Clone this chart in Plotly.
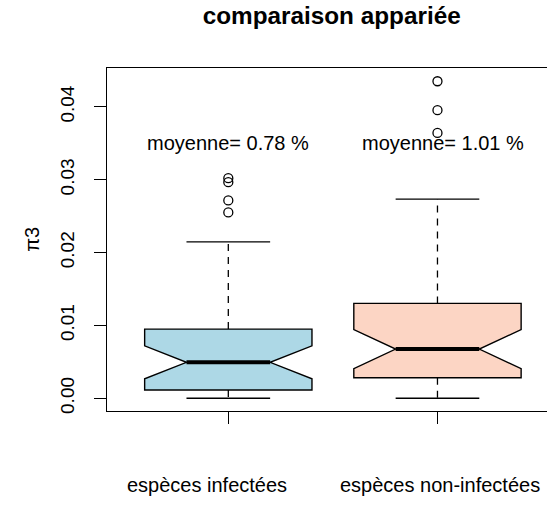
import plotly.graph_objects as go

# Summary statistics of pi3 for each group of species
categories = ["espèces infectées", "espèces non-infectées"]
positions = [1, 2]
q1 = [0.00114, 0.00283]
median = [0.00494, 0.00676]
q3 = [0.0095, 0.01303]
lower_whisker = [0.0, 0.0]
upper_whisker = [0.02148, 0.02734]
notch_span = [0.00226, 0.00268]
outliers = [
    [0.02551, 0.02716, 0.02967, 0.03022],
    [0.03643, 0.03955, 0.04352],
]
mean_pct = [0.78, 1.01]
mean_label_x = [1.0, 2.026]
mean_label_y = 0.035
category_label_x = [0.9, 2.014]
fills = ["#ADD8E6", "#FCD5C4"]
y_ticks = [0.0, 0.01, 0.02, 0.03, 0.04]

FONT = "Liberation Sans, Arial, sans-serif"
BOX_W = 0.8
HALF_STAPLE = BOX_W / 4

fig = go.Figure()

for i, pos in enumerate(positions):
    # notched box (whiskers drawn separately so they can be dashed)
    fig.add_trace(go.Box(
        x=[pos], q1=[q1[i]], median=[median[i]], q3=[q3[i]],
        lowerfence=[q1[i]], upperfence=[q3[i]],
        notchspan=[notch_span[i]], notched=True, notchwidth=0.25,
        width=BOX_W, whiskerwidth=0,
        fillcolor=fills[i], line=dict(color="black", width=1.4),
        boxpoints=False, hoverinfo="skip", showlegend=False,
    ))
    # dashed whiskers
    for a, b in [(q3[i], upper_whisker[i]), (q1[i], lower_whisker[i])]:
        fig.add_trace(go.Scatter(
            x=[pos, pos], y=[a, b], mode="lines",
            line=dict(color="black", width=1.3, dash="7px,6px"),
            hoverinfo="skip", showlegend=False,
        ))
    # staples
    for v in [upper_whisker[i], lower_whisker[i]]:
        fig.add_trace(go.Scatter(
            x=[pos - HALF_STAPLE, pos + HALF_STAPLE], y=[v, v], mode="lines",
            line=dict(color="black", width=1.4),
            hoverinfo="skip", showlegend=False,
        ))
    # thick median
    fig.add_trace(go.Scatter(
        x=[pos - HALF_STAPLE, pos + HALF_STAPLE], y=[median[i], median[i]],
        mode="lines", line=dict(color="black", width=4),
        hoverinfo="skip", showlegend=False,
    ))
    # outliers
    fig.add_trace(go.Scatter(
        x=[pos] * len(outliers[i]), y=outliers[i], mode="markers",
        marker=dict(symbol="circle-open", size=9, color="black",
                    line=dict(width=1.3, color="black")),
        hoverinfo="skip", showlegend=False,
    ))

annotations = []
for i in range(len(positions)):
    annotations.append(dict(
        x=mean_label_x[i], y=mean_label_y, xref="x", yref="y",
        text=f"moyenne= {mean_pct[i]:.2f} %", showarrow=False,
        font=dict(family=FONT, size=20, color="black"),
        xanchor="center", yanchor="middle",
    ))
    annotations.append(dict(
        x=category_label_x[i], y=-0.216, xref="x", yref="paper",
        text=categories[i], showarrow=False,
        font=dict(family=FONT, size=20, color="black"),
        xanchor="center", yanchor="middle",
    ))
annotations.append(dict(
    x=-0.172, y=0.5, xref="paper", yref="paper", text="π3",
    textangle=-90, showarrow=False,
    font=dict(family=FONT, size=20, color="black"),
    xanchor="center", yanchor="middle",
))

fig.update_layout(
    width=547, height=508,
    margin=dict(l=107, r=0, t=68, b=97),
    paper_bgcolor="white", plot_bgcolor="white",
    boxmode="overlay",
    title=dict(text="<b>comparaison appariée</b>", x=331.7 / 547, xref="container",
               xanchor="center", y=1 - 15.6 / 508, yref="container",
               yanchor="middle", font=dict(family=FONT, size=24.3, color="black")),
    annotations=annotations,
    xaxis=dict(range=[0.42, 0.42 + 440.3 / 209.3], tickvals=positions,
               showticklabels=False, ticks="outside", ticklen=12,
               tickwidth=1.3, tickcolor="black", showline=True, mirror=True,
               linecolor="black", linewidth=1.4, showgrid=False,
               zeroline=False),
    yaxis=dict(range=[-0.00174, 0.04534], tickvals=y_ticks, tickformat=".2f",
               tickangle=-90, ticks="outside", ticklen=12, tickwidth=1.3,
               tickcolor="black", showline=True, linecolor="black",
               linewidth=1.4, showgrid=False, zeroline=False,
               tickfont=dict(family=FONT, size=19, color="black"),
               ticklabelstandoff=12),
)

fig.write_html("out.html")
